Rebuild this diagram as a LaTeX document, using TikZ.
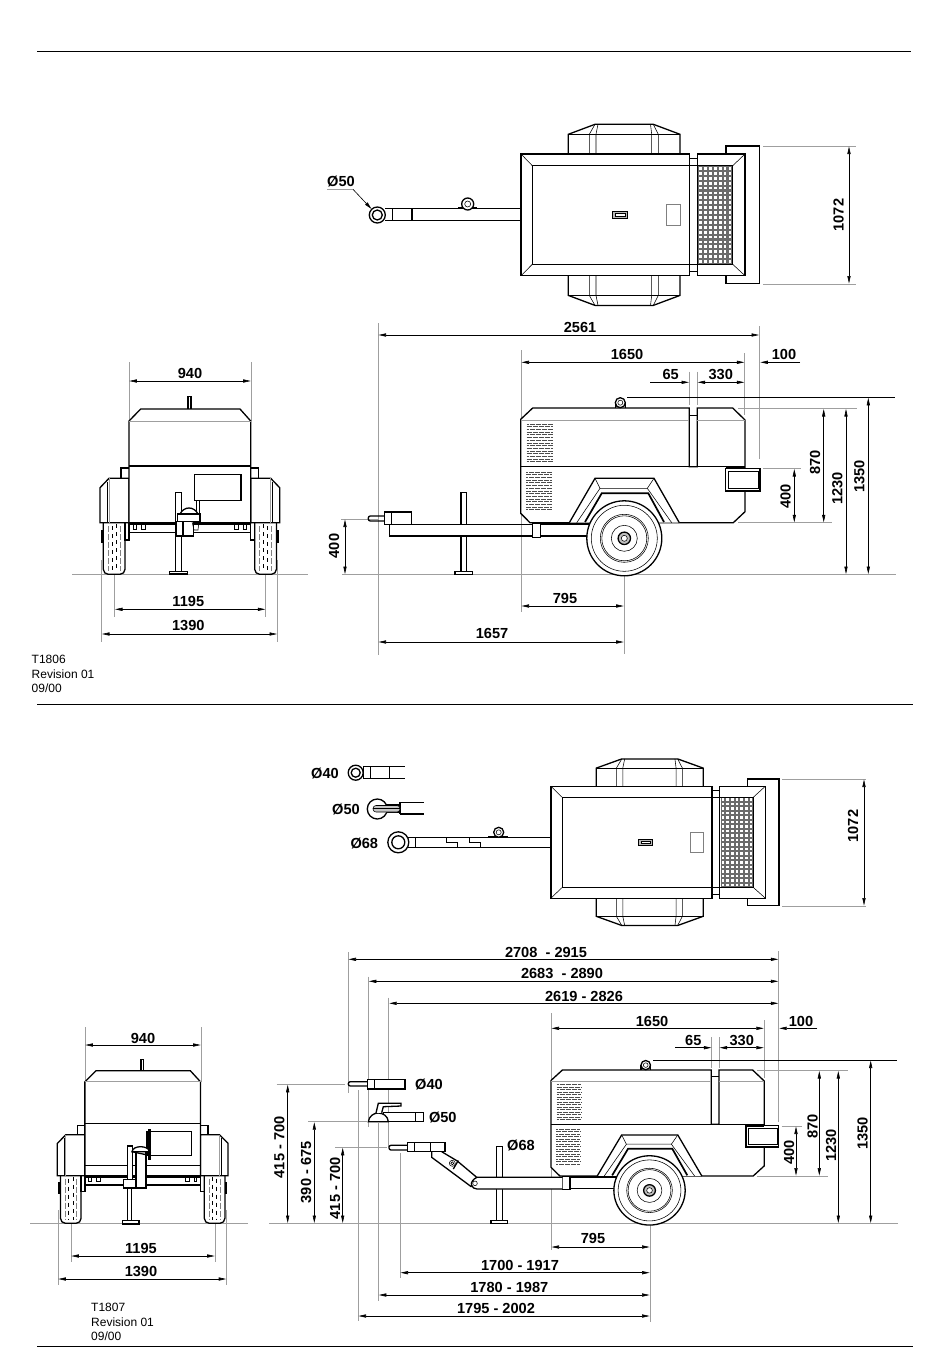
\documentclass[tikz,border=0pt]{standalone}
\usepackage{fontspec}
\setmainfont{Liberation Sans}
\usetikzlibrary{arrows.meta}
\tikzset{
heavy/.style={draw,line width=1.3pt,line join=miter},
fine/.style={draw,line width=.55pt},
ext/.style={draw,gray!75,line width=.8pt},
rule/.style={draw,line width=.7pt},
dimline/.style={draw,line width=.6pt,{Stealth[length=7.5pt,width=3.2pt,inset=0pt]}-{Stealth[length=7.5pt,width=3.2pt,inset=0pt]}},
dimhalf/.style={draw,line width=.6pt,-{Stealth[length=7.5pt,width=3.2pt,inset=0pt]}},
dimlabel/.style={font=\bfseries\fontsize{14.6}{14.6}\selectfont,inner sep=0pt},
dimlabelv/.style={dimlabel,rotate=90},
note/.style={font=\fontsize{12}{14.7}\selectfont,anchor=north west,inner sep=0pt,align=left}
}
\newcommand{\topunit}{
\foreach \off/\mir in {0/1,429.7/-1}{
\begin{scope}[shift={(0,\off)},yscale=\mir]
\draw[heavy] (568.3,154) -- (568.3,134.3) -- (595,124.3) -- (653.3,124.3) -- (680,134.3) -- (680,154);
\draw[fine] (568.3,134.3) -- (680,134.3);
\draw[fine] (595,124.3) -- (589.3,134.3) -- (589.3,154);
\draw[fine] (598,124.3) -- (596,134.3) -- (596,154);
\draw[fine] (653.3,124.3) -- (658.3,134.3) -- (658.3,154);
\draw[fine] (650.5,124.3) -- (651.7,134.3) -- (651.7,154);
\end{scope}
}
\draw[heavy] (726,154) -- (726,146) -- (759.3,146) -- (759.3,283.7) -- (726,283.7) -- (726,275.7);
\draw[heavy] (521,154) rectangle (689.3,275.7);
\draw[fine] (532.3,165.7) -- (689.3,165.7) (532.3,264.3) -- (689.3,264.3) (532.3,165.7) -- (532.3,264.3);
\draw[fine] (521,154) -- (532.3,165.7) (521,275.7) -- (532.3,264.3);
\draw[fine] (689.3,158.3) rectangle (697.3,271.7);
\draw[fine] (689.3,165.7) -- (697.3,165.7) (689.3,264.3) -- (697.3,264.3);
\draw[heavy] (697.3,154) rectangle (745,275.7);
\fill[black!58] (698.3,165.7) rectangle (732.7,264.3);
\foreach \gx in {0,...,6}{
\foreach \gy in {0,...,19}{
\fill[white] (699.4+4.85*\gx,167+4.9*\gy) rectangle ++(2.8,2.8);
}
}
\draw[fine] (697.3,165.7) -- (732.7,165.7) (697.3,264.3) -- (732.7,264.3) (732.7,165.7) -- (732.7,264.3);
\draw[fine] (745,154) -- (732.7,165.7) (745,275.7) -- (732.7,264.3);
\draw[fine,fill=gray!55] (612.7,211.7) rectangle (627.3,218.3);
\draw[fine,fill=white] (615,213.5) rectangle (625,216.5);
\draw[fine,gray] (666.7,204.3) rectangle (680,225.7);
}
\newcommand{\louvers}[3]{
\foreach \ly [count=\ln] in {#3}{
\pgfmathsetmacro{\lphase}{mod(\ln,2)*3}
\draw[line width=.7pt,black!70,dash pattern=on 5pt off 1pt,dash phase=\lphase pt] (#1,\ly) -- (#2,\ly);
}
}
\newcommand{\sideunit}{
\draw[heavy] (540.7,524.7) -- (590,524.7);
\draw[line width=1.7pt] (540.7,523.8) -- (590,523.8);
\draw[heavy] (540.7,536) -- (590,536);
\draw[heavy,fill=white] (520.7,419.3) -- (532.7,408) -- (689.3,408) -- (689.3,466.7) -- (697.3,466.7) -- (697.3,408) -- (732.7,408) -- (745,420) -- (745,511.7) -- (733.3,522.7) -- (530,522.7) -- (520.7,513.3) -- cycle;
\draw[heavy] (520.7,466.7) -- (745,466.7);
\draw[fine] (689.3,415) -- (697.3,415);
\draw[ext] (520.7,420) -- (689.3,420) (697.3,420) -- (745,420);
\louvers{526.7}{552.7}{424,426.7,...,463}
\louvers{526}{551.7}{472,474.7,...,512}
\draw[heavy] (615.3,408) -- (615.3,402.7) (625.3,408) -- (625.3,402.7);
\draw[heavy,fill=white] (620.3,402.7) circle [radius=5];
\draw[fine] (620.3,402.7) circle [radius=2.5];
\draw[heavy,fill=white] (725.7,468.3) rectangle (760,491.7);
\draw[fine] (728.3,471) rectangle (758.3,488.7);
\draw[line width=1.7pt] (725.7,491.2) -- (760,491.2) (725.7,468.3) -- (745,468.3);
\draw[heavy,fill=white] (569.3,522.7) -- (595,478.3) -- (654,478.3) -- (679.3,522.7);
\draw[fine] (576.7,522.7) -- (600,488.3) -- (647.3,488.3) -- (671.7,522.7);
\draw[fine] (595,478.3) -- (600,488.3) (654,478.3) -- (647.3,488.3);
\draw[line width=1.7pt] (585,522) -- (601.7,493.3) -- (648.3,493.3) -- (664,522);
\draw[heavy,fill=white] (624.3,538.3) circle [radius=37.5];
\draw[fine] (624.3,538.3) circle [radius=33];
\draw[fine] (624.3,538.3) circle [radius=24];
\draw[fine] (624.3,538.3) circle [radius=22.5];
\draw[fine] (624.3,538.3) circle [radius=13];
\draw[heavy,fill=gray!50] (624.3,538.3) circle [radius=6.2];
\draw[fine,fill=white] (624.3,538.3) circle [radius=3];
\draw[heavy,fill=white] (532.7,523.3) rectangle (540.7,537.3);
}
\newcommand{\rearunit}{
\foreach \off/\mir in {0/1,379.7/-1}{
\begin{scope}[shift={(\off,0)},xscale=\mir]
\draw[heavy,fill=white,rounded corners=5pt] (103.3,520) -- (103.3,574.3) -- (125,574.3) -- (125,520);
\draw[fine,gray,dash pattern=on 6pt off 2pt] (108,526) -- (108,571) (120,526) -- (120,571);
\draw[fine,dash pattern=on 4pt off 4pt] (112,526) -- (112,571) (116.5,524) -- (116.5,571);
\fill (101,530) rectangle (103.3,542.7);
\draw[heavy,fill=white] (100,487.7) -- (109,478.3) -- (129,478.3) -- (129,522.7) -- (100,522.7) -- cycle;
\draw[ext] (109,478.3) -- (109,522.7);
\draw[fine] (107,482) -- (107,522.7);
\draw[heavy] (121,478.3) -- (121,468) -- (129,468);
\draw[heavy] (125,522.7) -- (125,540) -- (129,540) -- (129,522.7);
\draw[fine] (133,523) -- (133,529) -- (136,529) -- (136,523) (141,523) -- (141,529) -- (145,529) -- (145,523);
\end{scope}
}
\draw[line width=1.7pt] (129,523.8) -- (250.7,523.8);
\draw[heavy] (129,532.7) -- (250.7,532.7);
\draw[heavy,fill=white] (129,421) -- (140.7,409) -- (240,409) -- (250.7,421) -- (250.7,522.7) -- (129,522.7) -- cycle;
\draw[ext] (129,421) -- (250.7,421);
\draw[heavy] (129,466) -- (250.7,466);
\draw[heavy] (188,409) -- (188,396.7) -- (191,396.7) -- (191,409);
\draw[heavy] (194.3,474.7) rectangle (241,500.7);
}
\begin{document}
\begin{tikzpicture}[x=1pt,y=-1pt]
\useasboundingbox (0,0) rectangle (950,1370);
\draw[rule] (37,51) -- (911,51);
\draw[rule] (37,704) -- (913,704);
\draw[rule] (37,1346) -- (913,1346);

\draw[ext] (72,574.5) -- (308,574.5) (342,574.5) -- (896,574.5);
\draw[ext] (378,323) -- (378,655) (521,350) -- (521,612) (624,540) -- (624,654);
\draw[ext] (759.5,326) -- (759.5,459) (744.7,353) -- (744.7,415);
\draw[ext] (689.3,371.7) -- (689.3,405) (697.3,371.7) -- (697.3,405);
\draw[ext] (341,519) -- (378,519);
\draw[ext] (129,362) -- (129,421) (251,362) -- (251,421);
\draw[ext] (101.7,560) -- (101.7,642) (277.3,560) -- (277.3,642) (114.7,574) -- (114.7,617) (265.7,574) -- (265.7,617);
\draw[ext] (763,146) -- (856,146) (763,284) -- (856,284);
\draw[ext] (738,408.5) -- (857.3,408.5) (763.3,468.5) -- (800.7,468.5) (738,522.7) -- (831.7,522.7);
\draw[rule] (627,397.3) -- (895,397.3);

\topunit
\draw[heavy] (385,208.7) -- (521,208.7) (385,220.7) -- (521,220.7);
\draw[fine] (392,208.7) -- (392,220.7);
\draw[heavy] (412,208.7) -- (412,220.7);
\draw[heavy] (458,208) -- (477.3,208);
\draw[heavy,fill=white] (467.7,204) circle [radius=6];
\draw[fine] (467.7,204) circle [radius=3];
\draw[heavy,fill=white] (377.3,215) circle [radius=8];
\draw[heavy] (377.3,215) circle [radius=5];
\draw[ext] (327,189.3) -- (353,189.3);
\draw[dimhalf] (353,189.3) -- (371.5,209);
\node (dia50a) [dimlabel] at (341,182) {Ø50};
\draw[dimline] (849,146.5) -- (849,283.5);
\node (widthA) [dimlabelv] at (838.5,215) {1072};

\sideunit
\draw[heavy] (532.7,524.7) -- (389.3,524.7) -- (389.3,536) -- (532.7,536);
\draw[heavy,fill=white] (461,492.3) rectangle (466.7,524.7);
\draw[heavy,fill=white] (461,536) rectangle (466.7,571.7);
\draw[heavy,fill=white] (455,571.7) rectangle (472.7,574.3);
\draw[heavy,rounded corners=2pt] (384.7,516) -- (368.3,516) -- (368.3,521) -- (384.7,521);
\draw[heavy,fill=white] (384.7,512) rectangle (411.7,524.3);
\draw[heavy] (391.3,512) -- (391.3,524.3);

\rearunit
\draw[heavy,fill=white] (175.7,492.3) rectangle (181.7,571.7);
\draw[heavy,fill=white] (169.3,571.7) rectangle (187.7,574);
\draw[heavy] (196.7,500.7) -- (196.7,514) (199.3,500.7) -- (199.3,514);
\draw[heavy,fill=white] (176,521.7) rectangle (193.3,536);
\draw[heavy] (183,521.7) -- (183,536);
\draw[heavy,fill=white] (180,514) .. controls (184,506) and (194,506) .. (198,514);
\draw[heavy,fill=white] (177.7,514) rectangle (200,521.7);
\draw[fine] (192,521.7) -- (194,530) -- (198,530) -- (199,521.7);

\draw[dimline] (378.5,335) -- (759,335);
\node (overallA) [dimlabel] at (580,327) {2561};
\draw[dimline] (521.5,362.3) -- (744.3,362.3);
\node (bodyA) [dimlabel] at (627,354.5) {1650};
\draw[dimhalf] (800,362.3) -- (760.3,362.3);
\node (frameA) [dimlabel] at (784,354.5) {100};
\draw[dimhalf] (650,382.3) -- (689,382.3);
\node (gapA) [dimlabel] at (670.7,374.7) {65};
\draw[dimline] (697.6,382.3) -- (744.3,382.3);
\node (coolerA) [dimlabel] at (720.7,374.7) {330};
\draw[dimline] (794.3,469) -- (794.3,522.3);
\node (exhaustA) [dimlabelv] at (785.7,496.7) {400};
\draw[dimline] (823.7,409) -- (823.7,522.3);
\node (bodyhA) [dimlabelv] at (815,462.7) {870};
\draw[dimline] (846,409) -- (846,574);
\node (tophA) [dimlabelv] at (837.3,488.3) {1230};
\draw[dimline] (868.3,397.8) -- (868.3,574);
\node (eyehA) [dimlabelv] at (859.3,476.7) {1350};
\draw[dimline] (521.5,606) -- (623.7,606);
\node (axleA) [dimlabel] at (565,598) {795};
\draw[dimline] (378.5,642) -- (623.7,642);
\node (hitchA) [dimlabel] at (492,633.5) {1657};
\draw[dimline] (345,519.5) -- (345,574);
\node (hitchhA) [dimlabelv] at (334,546) {400};
\draw[dimline] (129.3,381) -- (250.7,381);
\node (rearA) [dimlabel] at (190,373.5) {940};
\draw[dimline] (115,609.3) -- (265.3,609.3);
\node (trackA) [dimlabel] at (188.3,601) {1195};
\draw[dimline] (102,634) -- (277,634);
\node (outerA) [dimlabel] at (188.3,625.7) {1390};
\node (sheetA) [note] at (31.5,655) {T1806\\Revision 01\\09/00};

\draw[ext] (30,1223.5) -- (248,1223.5) (269.3,1223.5) -- (898,1223.5);
\draw[ext] (348,952.3) -- (348,1092.7) (368.3,976.7) -- (368.3,1126.7) (388.7,997.7) -- (388.7,1146.7);
\draw[ext] (551,1013) -- (551,1250) (650,1195) -- (650,1322);
\draw[ext] (778.7,951) -- (778.7,1121.7) (764.3,1020) -- (764.3,1078);
\draw[ext] (711.7,1037.3) -- (711.7,1068) (719.3,1037.3) -- (719.3,1068);
\draw[ext] (276.7,1084.3) -- (345,1084.3) (308.3,1121.7) -- (366.7,1121.7) (335,1147.3) -- (386.7,1147.3);
\draw[ext] (400,1153.3) -- (400,1278.3) (378.3,1123) -- (378.3,1300.7) (358,1090) -- (358,1321);
\draw[ext] (85,1027) -- (85,1082) (201,1027) -- (201,1082);
\draw[ext] (58,1210) -- (58,1285) (226.5,1210) -- (226.5,1285) (71,1222) -- (71,1262) (215,1222) -- (215,1262);
\draw[ext] (782,779) -- (866,779) (782,906) -- (866,906);
\draw[ext] (757,1070.7) -- (847.7,1070.7) (781.7,1126) -- (801.7,1126) (757.3,1176) -- (827.7,1176);
\draw[rule] (653,1060) -- (897,1060);

\begin{scope}[shift={(551,842.2)},xscale=.957,yscale=.92,shift={(-521,-214.85)}]
\topunit
\end{scope}
\draw[heavy] (406.7,837.3) -- (551,837.3) (406.7,847.3) -- (551,847.3);
\draw[heavy] (407.3,837.3) -- (407.3,847.3);
\draw[fine] (415.7,837.3) -- (415.7,847.3);
\draw[fine] (446,838) -- (446,842.7) -- (457.3,842.7) -- (457.3,847.3);
\draw[fine] (469.3,838) -- (469.3,842.7) -- (480.7,842.7) -- (480.7,847.3);
\draw[heavy] (488,836.5) -- (508,836.5);
\draw[heavy,fill=white] (498.7,832.3) circle [radius=5];
\draw[fine] (498.7,832.3) circle [radius=2.5];
\draw[heavy,fill=white] (398.3,842.3) circle [radius=10.5];
\draw[heavy] (398.3,842.3) circle [radius=6.5];
\node (dia68a) [dimlabel] at (364.3,844) {Ø68};
\draw[heavy] (363.3,766.7) -- (405,766.7) (363.3,778.3) -- (405,778.3);
\draw[fine] (363.3,766.7) -- (363.3,778.3) (370.7,766.7) -- (370.7,778.3);
\draw[heavy] (389.3,766.7) -- (389.3,778.3);
\draw[heavy,fill=white] (355.7,772.7) circle [radius=7.5];
\draw[heavy] (355.7,772.7) circle [radius=4.5];
\node (dia40a) [dimlabel] at (325,774) {Ø40};
\draw[heavy] (400,802.3) -- (424,802.3) (400,814) -- (424,814);
\draw[heavy] (400,802.3) -- (400,814);
\draw[heavy,fill=white] (377.3,809) circle [radius=10];
\draw[heavy,fill=white] (386,805) -- (400,805) -- (400,812) -- (386,812);
\draw[fine,fill=gray!45,rounded corners=3pt] (373,805.5) rectangle (400,812);
\draw[fine] (373,808.7) -- (400,808.7);
\node (dia50b) [dimlabel] at (346,810) {Ø50};
\draw[dimline] (864,779.5) -- (864,905.5);
\node (widthB) [dimlabelv] at (853,826) {1072};

\begin{scope}[shift={(551,1070)},xscale=.951,yscale=.924,shift={(-520.7,-408)}]
\sideunit
\end{scope}
\draw[heavy,fill=white] (496.7,1146.7) rectangle (502.3,1220.7);
\draw[heavy,fill=white] (491,1220.7) rectangle (507.7,1223.3);
\draw[heavy,fill=white] (431.7,1151.7) -- (431.7,1157.3) -- (471,1186.5) -- (476.7,1177.3) -- (457.3,1161) -- (441.7,1151.7);
\draw[heavy] (453.3,1169) -- (458.3,1160.5);
\draw[fine,fill=white] (452.3,1163.3) circle [radius=3];
\draw[fine] (452.3,1163.3) circle [radius=1.5];
\draw[heavy,fill=white] (562.3,1177.3) -- (477,1177.3) .. controls (473,1179) and (470.5,1183) .. (471.5,1185) .. controls (472.5,1187.5) and (474,1189) .. (477,1189) -- (562.3,1189);
\draw[fine,fill=white] (475,1183.3) circle [radius=2.3];
\draw[heavy,rounded corners=2pt] (407.7,1145.3) -- (389,1145.3) -- (389,1150) -- (407.7,1150);
\draw[heavy,fill=white] (407.7,1142.7) rectangle (445,1151.7);
\draw[fine] (414,1142.7) -- (414,1151.7) (430.7,1142.7) -- (430.7,1151.7);
\node (dia68b) [dimlabel] at (521,1145.7) {Ø68};
\draw[heavy,rounded corners=2pt] (367.3,1081.7) -- (348.3,1081.7) -- (348.3,1086) -- (367.3,1086);
\draw[heavy,fill=white] (367.3,1079.3) rectangle (405,1089);
\draw[fine] (374,1079.3) -- (374,1089);
\node (dia40b) [dimlabel] at (429,1084.3) {Ø40};
\draw[heavy,fill=white] (383.3,1112.7) rectangle (423.3,1121.7);
\draw[fine] (415.7,1112.7) -- (415.7,1121.7);
\draw[heavy,fill=white] (368.3,1121.7) .. controls (369,1116) and (374,1113) .. (378,1113) .. controls (383,1113) and (388,1116) .. (388.3,1121.7) -- cycle;
\draw[heavy,fill=white] (376,1113) -- (378.3,1103.3) -- (401,1103.3) -- (401,1106) -- (383.3,1106.7) -- (381.7,1112.7);
\node (dia50c) [dimlabel] at (442.8,1117.3) {Ø50};

\begin{scope}[shift={(142.7,1223.3)},xscale=.95,yscale=.923,shift={(-189.85,-574.3)}]
\rearunit
\end{scope}
\draw[fine] (84.7,1165.3) -- (200.7,1165.3);
\draw[heavy,fill=white] (127.3,1188) rectangle (131.7,1220.7);
\draw[heavy,fill=white] (122.3,1220.7) rectangle (139,1224);
\draw[heavy,fill=white] (127.3,1146) rectangle (132.3,1179.3);
\draw[heavy,fill=white] (123.3,1179.3) rectangle (136,1188);
\draw[heavy,fill=white] (136,1151.7) rectangle (146,1188);
\draw[heavy,fill=white] (132,1151.7) .. controls (133,1145) and (148,1145) .. (150,1151.7) -- cycle;
\fill (148.3,1129.3) rectangle (151,1160);
\draw[heavy] (132,1151.7) -- (150,1155.5);

\draw[dimline] (348.5,959.3) -- (778.3,959.3);
\node (overallB) [dimlabel] at (546,952) {2708\ \ - 2915};
\draw[dimline] (368.8,981.3) -- (778.3,981.3);
\node (overallC) [dimlabel] at (562,973.5) {2683\ \ - 2890};
\draw[dimline] (389.2,1003.3) -- (778.3,1003.3);
\node (overallD) [dimlabel] at (584,996) {2619 - 2826};
\draw[dimline] (551.5,1028.3) -- (763.8,1028.3);
\node (bodyB) [dimlabel] at (652,1021) {1650};
\draw[dimhalf] (817.3,1028.3) -- (779.2,1028.3);
\node (frameB) [dimlabel] at (801,1021) {100};
\draw[dimhalf] (675,1047.7) -- (711.4,1047.7);
\node (gapB) [dimlabel] at (693.3,1040.7) {65};
\draw[dimline] (719.6,1047.7) -- (763.8,1047.7);
\node (coolerB) [dimlabel] at (741.7,1040.7) {330};
\draw[dimline] (796,1126.5) -- (796,1175.6);
\node (exhaustB) [dimlabelv] at (789,1152.3) {400};
\draw[dimline] (819.3,1071) -- (819.3,1175.6);
\node (bodyhB) [dimlabelv] at (812.7,1126.7) {870};
\draw[dimline] (838.3,1071) -- (838.3,1223);
\node (tophB) [dimlabelv] at (831,1145.7) {1230};
\draw[dimline] (870.7,1060.5) -- (870.7,1223);
\node (eyehB) [dimlabelv] at (862.7,1133.3) {1350};
\draw[dimline] (287.7,1084.8) -- (287.7,1223);
\node (hitchhB) [dimlabelv] at (279.3,1147.3) {415 - 700};
\draw[dimline] (314.3,1122.2) -- (314.3,1223);
\node (hitchhC) [dimlabelv] at (306,1172.3) {390 - 675};
\draw[dimline] (342.7,1147.8) -- (342.7,1223);
\node (hitchhD) [dimlabelv] at (335,1188.3) {415 - 700};
\draw[dimline] (551.5,1247) -- (649.6,1247);
\node (axleB) [dimlabel] at (593,1238) {795};
\draw[dimline] (400.5,1272.7) -- (649.6,1272.7);
\node (hitchB) [dimlabel] at (520,1265.3) {1700 - 1917};
\draw[dimline] (378.8,1295) -- (649.6,1295);
\node (hitchC) [dimlabel] at (509.3,1287.3) {1780 - 1987};
\draw[dimline] (358.5,1316) -- (649.6,1316);
\node (hitchD) [dimlabel] at (496,1308.3) {1795 - 2002};
\draw[dimline] (85.3,1045) -- (200.7,1045);
\node (rearB) [dimlabel] at (143,1038) {940};
\draw[dimline] (71.3,1256) -- (214.7,1256);
\node (trackB) [dimlabel] at (141,1248) {1195};
\draw[dimline] (58.3,1279) -- (226.2,1279);
\node (outerB) [dimlabel] at (141,1271) {1390};
\node (sheetB) [note] at (91,1303) {T1807\\Revision 01\\09/00};
\end{tikzpicture}
\end{document}
